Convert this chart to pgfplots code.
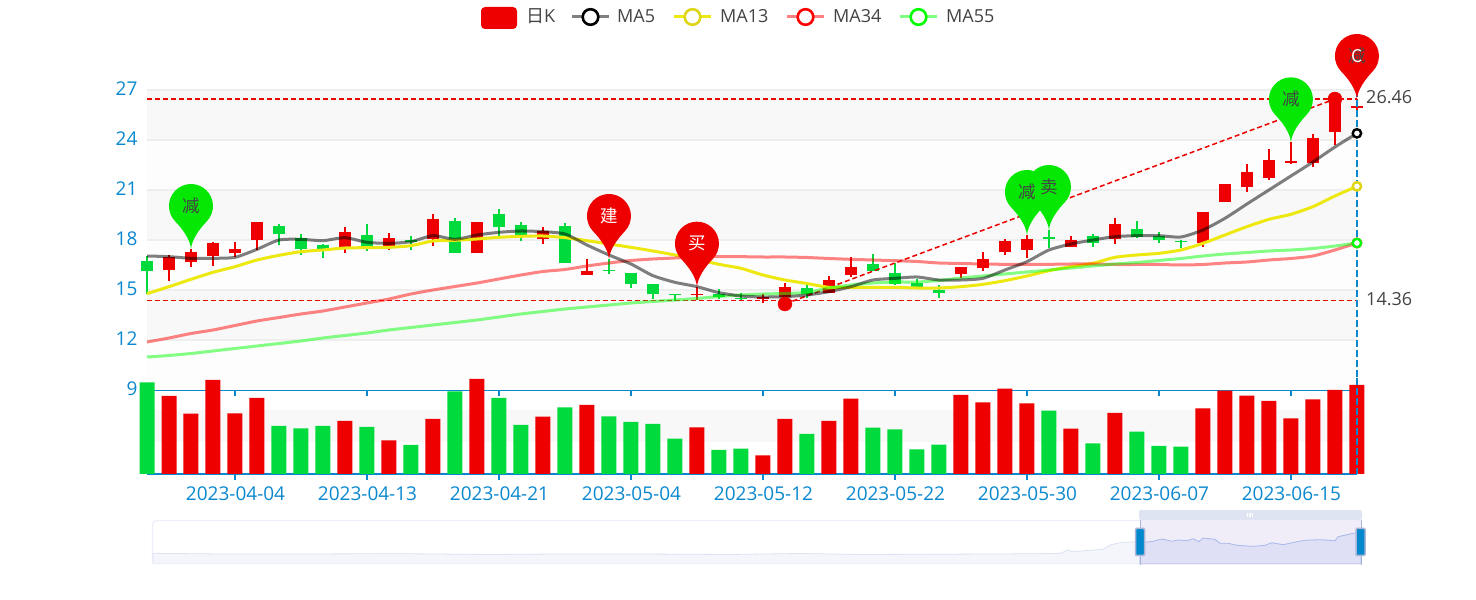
\documentclass[border=0pt]{standalone}
\usepackage{fontspec}
\usepackage{pgfplots}
\usepackage{pgfplotstable}
\pgfplotsset{compat=1.18}
\setmainfont{Open Sans}
\newfontfamily\cjk{Noto Sans CJK SC}
\definecolor{kred}{HTML}{EE0000}
\definecolor{kgreen}{HTML}{00DA3C}
\definecolor{axblue}{HTML}{0A88CF}
\definecolor{hblue}{HTML}{0088CC}
\definecolor{bandg}{HTML}{F8F8F8}
\definecolor{bandw}{HTML}{FDFDFD}
\definecolor{gridc}{HTML}{EEEEEE}
\definecolor{pinG}{HTML}{04E804}
\definecolor{txt}{HTML}{444444}
\definecolor{ma13c}{HTML}{EEE811}
\definecolor{ma13m}{HTML}{DDD515}
\definecolor{szborder}{HTML}{F0EEFA}
\definecolor{szleft}{HTML}{F5F6FB}
\definecolor{szleftl}{HTML}{DCE2F3}
\definecolor{szsel}{HTML}{F0EDF8}
\definecolor{szself}{HTML}{DFDFF5}
\definecolor{szsell}{HTML}{A9B9E9}
\definecolor{sztop}{HTML}{DFE4F2}
\definecolor{szedge}{HTML}{A9B4D6}
\pgfdeclareplotmark{pin}{%
 \pgfpathmoveto{\pgfqpoint{0pt}{0pt}}%
 \pgfpathcurveto{\pgfqpoint{1pt}{10pt}}{\pgfqpoint{8.5pt}{20pt}}{\pgfqpoint{16pt}{27.9pt}}%
 \pgfpatharc{-43.3}{223.3}{22pt}%
 \pgfpathcurveto{\pgfqpoint{-8.5pt}{20pt}}{\pgfqpoint{-1pt}{10pt}}{\pgfqpoint{0pt}{0pt}}%
 \pgfpathclose\pgfusepathqfill}
% candles: i open close low high (open/close order gives colour)
\pgfplotstableread{
i  open  close low   high
2  16.67 17.27 16.40 17.46
3  17.03 17.80 16.44 17.88
4  17.20 17.44 17.00 17.90
1  16.20 16.98 15.56 17.10
5  18.00 19.06 17.40 19.06
9  17.60 18.46 17.20 18.76
11 17.56 18.12 17.40 18.40
13 18.06 19.24 17.64 19.56
15 17.24 19.06 17.24 19.06
18 18.04 18.52 17.76 18.76
20 15.90 16.14 15.90 16.84
25 14.70 14.76 14.40 15.20
28 14.48 14.52 14.22 14.78
29 14.56 15.16 14.40 15.40
31 14.84 15.60 14.84 15.86
32 15.88 16.38 15.76 17.00
37 15.96 16.36 15.70 16.36
38 16.30 16.84 16.14 17.30
39 17.26 17.92 17.12 18.08
40 17.40 18.06 16.94 18.30
42 17.56 17.98 17.56 18.24
44 18.06 18.96 17.76 19.30
48 17.82 19.66 17.60 19.66
49 20.30 21.38 20.30 21.38
50 21.16 22.06 20.90 22.58
51 21.74 22.82 21.60 23.46
52 22.64 22.72 22.62 23.86
53 22.60 24.10 22.36 24.36
54 24.46 26.40 23.70 26.46
55 25.90 26.04 25.80 26.46
}\upT
\pgfplotstableread{
i  open  close low   high
0  16.74 16.14 14.76 17.04
6  18.84 18.34 17.72 18.96
7  18.10 17.44 17.10 18.34
8  17.68 17.32 16.90 17.76
10 18.28 17.60 17.34 18.96
12 18.02 17.86 17.40 18.26
14 19.12 17.24 17.24 19.30
16 19.54 18.76 18.24 19.88
17 18.88 18.30 17.96 19.10
19 18.84 16.62 16.62 19.00
21 16.18 16.14 15.94 16.86
22 16.00 15.34 15.14 16.00
23 15.36 14.74 14.46 15.36
24 14.74 14.68 14.34 14.74
26 14.74 14.56 14.44 15.04
27 14.54 14.46 14.40 14.80
30 15.12 14.76 14.54 15.30
33 16.54 16.12 16.12 17.16
34 16.04 15.36 15.30 16.60
35 15.40 15.16 15.16 15.64
36 15.00 14.80 14.54 15.30
41 18.12 18.08 17.52 18.60
43 18.22 17.84 17.60 18.36
45 18.64 18.20 18.12 19.14
46 18.26 18.00 17.84 18.50
47 17.92 17.88 17.54 18.00
}\downT
% moving averages: i ma5 ma13 ma34 ma55
\pgfplotstableread{
i  ma5   ma13  ma34  ma55
0  17.04 14.78 11.88 10.98
1  17.00 15.20 12.12 11.07
2  16.90 15.64 12.39 11.19
3  16.90 16.06 12.60 11.34
4  16.96 16.40 12.87 11.49
5  17.44 16.80 13.14 11.64
6  18.00 17.08 13.35 11.79
7  18.04 17.30 13.56 11.94
8  17.96 17.40 13.74 12.12
9  18.14 17.52 13.98 12.27
10 17.86 17.54 14.22 12.42
11 17.80 17.56 14.46 12.60
12 17.90 17.66 14.76 12.75
13 18.26 17.94 15.00 12.90
14 18.04 17.98 15.21 13.05
15 18.30 18.06 15.42 13.20
16 18.46 18.16 15.66 13.38
17 18.54 18.22 15.90 13.56
18 18.50 18.24 16.11 13.71
19 18.36 18.14 16.23 13.86
20 17.70 17.96 16.44 13.98
21 17.10 17.76 16.62 14.10
22 16.56 17.56 16.77 14.22
23 15.86 17.34 16.86 14.31
24 15.46 17.10 16.92 14.40
25 15.20 16.84 16.98 14.49
26 14.84 16.54 17.00 14.61
27 14.64 16.30 17.00 14.70
28 14.58 15.90 16.98 14.76
29 14.60 15.60 16.98 14.79
30 14.70 15.39 16.95 14.85
31 14.90 15.16 16.89 15.12
32 15.20 15.16 16.84 15.30
33 15.60 15.16 16.80 15.42
34 15.70 15.16 16.76 15.48
35 15.78 15.12 16.71 15.48
36 15.60 15.12 16.62 15.57
37 15.60 15.20 16.59 15.72
38 15.70 15.34 16.56 15.84
39 16.20 15.56 16.54 15.96
40 16.70 15.84 16.54 16.08
41 17.40 16.16 16.54 16.20
42 17.76 16.40 16.56 16.32
43 18.00 16.60 16.56 16.44
44 18.20 16.96 16.53 16.56
45 18.26 17.10 16.53 16.65
46 18.26 17.20 16.53 16.77
47 18.18 17.40 16.50 16.89
48 18.60 17.80 16.53 17.04
49 19.30 18.30 16.62 17.16
50 20.16 18.80 16.68 17.25
51 21.00 19.24 16.80 17.34
52 21.84 19.54 16.89 17.40
53 22.68 20.00 17.04 17.49
54 23.58 20.64 17.40 17.64
55 24.40 21.22 17.82 17.82
}\maT
% volume
\pgfplotstableread{
i v
1 78
2 60.3
3 94
4 60.7
5 76
9 53
11 33.7
13 55
15 95
18 57.3
20 69
25 46.7
28 18.7
29 55
31 53
32 75.3
37 79
38 71.7
39 85.3
40 70.7
42 45.3
44 61
48 65.7
49 83.3
50 78.3
51 73
52 55.7
53 74.7
54 84
55 89
}\volUp
\pgfplotstableread{
i v
0 91.7
6 48
7 45.7
8 48
10 47
12 29
14 82.7
16 76
17 49
19 66.7
21 57.7
22 52
23 50
24 35.3
26 24
27 25.3
30 40
33 46.3
34 44.7
35 24.7
36 29.3
41 63.3
43 30.7
45 42.3
46 28
47 27.3
}\volDn
\begin{document}
\begin{tikzpicture}[x=1pt,y=1pt]
\path[use as bounding box] (0,0) rectangle (1476,600);
% ===== price axis
\begin{axis}[
 at={(147pt,210pt)},anchor=south west,
 scale only axis,width=1210pt,height=300pt,
 xmin=0,xmax=55,ymin=9,ymax=27,
 clip=false,
 axis x line=bottom,axis y line=left,
 axis line style={draw=none},
 x axis line style={draw=axblue,line width=1.8pt,-},
 y axis line style={draw=none},
 ytick={9,12,15,18,21,24,27},
 ymajorgrids=false,
 xtick={4,10,16,22,28,34,40,46,52},
 xticklabels={},
 tick style={draw=axblue,line width=1.5pt},
 x tick style={draw=axblue,line width=1.5pt,yshift=-0.1pt},
 major tick length=6pt,
 xtick align=outside,
 ytick style={draw=none},
 /pgf/number format/assume math mode=true,
 yticklabel style={font=\fontsize{19}{19}\selectfont,text=axblue,anchor=east,xshift=-3pt,yshift=1pt},
 ]
 \fill[bandg] (axis cs:0,24) rectangle (axis cs:55,27);
 \fill[bandw] (axis cs:0,21) rectangle (axis cs:55,24);
 \fill[bandg] (axis cs:0,18) rectangle (axis cs:55,21);
 \fill[bandw] (axis cs:0,15) rectangle (axis cs:55,18);
 \fill[bandg] (axis cs:0,12) rectangle (axis cs:55,15);
 \fill[bandw] (axis cs:0,9) rectangle (axis cs:55,12);
 \foreach \v in {12,15,18,21,24,27}{\edef\tmp{\noexpand\draw[gridc,line width=1.4pt] (axis cs:0,\v) -- (axis cs:55,\v);}\tmp}
 % candles: wicks then bodies
 \addplot[draw=none,forget plot,error bars/.cd,y dir=both,y explicit,error mark=none,error bar style={kred,line width=2pt}]
   table[x=i,y=open,y error plus expr=\thisrow{high}-\thisrow{open},y error minus expr=\thisrow{open}-\thisrow{low}]{\upT};
 \addplot[draw=none,forget plot,error bars/.cd,y dir=both,y explicit,error mark=none,error bar style={kgreen,line width=2pt}]
   table[x=i,y=open,y error plus expr=\thisrow{high}-\thisrow{open},y error minus expr=\thisrow{open}-\thisrow{low}]{\downT};
 \addplot[draw=none,forget plot,error bars/.cd,y dir=plus,y explicit,error mark=none,error bar style={kred,line width=12pt}]
   table[x=i,y=open,y error plus expr={max(\thisrow{close}-\thisrow{open},0.08)}]{\upT};
 \addplot[draw=none,forget plot,error bars/.cd,y dir=plus,y explicit,error mark=none,error bar style={kgreen,line width=12pt}]
   table[x=i,y=close,y error plus expr={max(\thisrow{open}-\thisrow{close},0.08)}]{\downT};
 % dashed mark lines
 \addplot[kred,dash pattern=on 5pt off 3pt,line width=1.5pt,forget plot] coordinates {(0,26.46) (55,26.46)};
 \addplot[kred,dash pattern=on 5pt off 3pt,line width=1.5pt,forget plot] coordinates {(0,14.36) (55,14.36)};
 \addplot[kred,dash pattern=on 5pt off 3pt,line width=1.5pt,forget plot] coordinates {(29,14.16) (54,26.46)};
 % moving averages
 \addplot[ma13c,line width=3pt,smooth,tension=0.4,forget plot] table[x=i,y=ma13]{\maT};
 \addplot[red,opacity=0.48,line width=3pt,smooth,tension=0.4,forget plot] table[x=i,y=ma34]{\maT};
 \addplot[green,opacity=0.48,line width=3pt,smooth,tension=0.4,forget plot] table[x=i,y=ma55]{\maT};
 \addplot[black,opacity=0.5,line width=3pt,smooth,tension=0.4,forget plot] table[x=i,y=ma5]{\maT};
 % axis pointer
 \addplot[axblue,dash pattern=on 7pt off 3pt,line width=1.8pt,forget plot] coordinates {(55,27) (55,9)};
 % end-of-line circles
 \addplot[only marks,mark=*,mark size=4.2pt,mark options={draw=red,fill=white,line width=2.4pt},forget plot] coordinates {(55,17.82)};
 \addplot[only marks,mark=*,mark size=4.2pt,mark options={draw=green,fill=white,line width=2.4pt},forget plot] coordinates {(55,17.82)};
 \addplot[only marks,mark=*,mark size=4.2pt,mark options={draw=ma13m,fill=white,line width=2.4pt},forget plot] coordinates {(55,21.22)};
 \addplot[only marks,mark=*,mark size=4.2pt,mark options={draw=black,fill=white,line width=2.4pt},forget plot] coordinates {(55,24.40)};
 % extreme points
 \addplot[only marks,mark=*,mark size=7pt,kred,mark options={draw=none,fill=kred},forget plot] coordinates {(29,14.16) (54,26.46)};
 % pins
 \addplot[only marks,mark=pin,mark options={fill=pinG},forget plot] coordinates {(2,17.46) (40,18.30) (41,18.60) (52,23.86)};
 \addplot[only marks,mark=pin,mark options={fill=kred},forget plot] coordinates {(21,16.86) (25,15.20) (55,26.46)};
 \addplot[only marks,mark=none,forget plot,point meta=explicit symbolic,nodes near coords,
   every node near coord/.style={anchor=center,yshift=43pt,inner sep=0pt,font=\cjk\fontsize{17.5}{18}\selectfont,text=txt}]
   coordinates {(2,17.46)[减] (40,18.30)[减] (41,18.60)[卖] (52,23.86)[减] (55,26.46)[减]};
 \addplot[only marks,mark=none,forget plot,point meta=explicit symbolic,nodes near coords,
   every node near coord/.style={anchor=center,yshift=43pt,inner sep=0pt,font=\cjk\fontsize{17.5}{18}\selectfont,text=white}]
   coordinates {(21,16.86)[建] (25,15.20)[买] (55,26.46)[C]};
 % end labels
 \node[anchor=west,inner sep=0pt,font=\fontsize{18}{18}\selectfont,text=txt] at (1219pt,293pt) {26.46};
 \node[anchor=west,inner sep=0pt,font=\fontsize{18}{18}\selectfont,text=txt] at (1219pt,91pt) {14.36};
\end{axis}
% ===== volume axis
\begin{axis}[
 at={(147pt,126pt)},anchor=south west,
 scale only axis,width=1210pt,height=96pt,
 xmin=0,xmax=55,ymin=0,ymax=96,
 clip=false,
 axis x line=bottom,axis y line=none,
 x axis line style={draw=axblue,line width=1.8pt,-},
 xtick={4,10,16,22,28,34,40,46,52},
 xticklabels={2023-04-04,2023-04-13,2023-04-21,2023-05-04,2023-05-12,2023-05-22,2023-05-30,2023-06-07,2023-06-15},
 tick style={draw=axblue,line width=1.5pt},
 major tick length=6pt,
 xtick align=outside,
 xticklabel style={font=\fontsize{19}{19}\selectfont,text=axblue,yshift=-3pt,xshift=0.5pt},
 ytick=\empty,
 ]
 \fill[bandg] (axis cs:0,32) rectangle (axis cs:55,64);
 \addplot[ybar,bar width=15pt,fill=kred,draw=none,forget plot] table[x=i,y=v]{\volUp};
 \addplot[ybar,bar width=15pt,fill=kgreen,draw=none,forget plot] table[x=i,y=v]{\volDn};
 \addplot[axblue,dash pattern=on 7pt off 3pt,line width=1.8pt,forget plot] coordinates {(55,96) (55,0)};
\end{axis}
% ===== slider background + sparkline
\draw[draw=szborder,fill=white,line width=1.2pt,rounded corners=4pt] (152.5,36.5) rectangle (1361.5,79.5);
\fill[szsel] (1140,35) rectangle (1361,80);
\begin{axis}[
 at={(152pt,36pt)},anchor=south west,
 scale only axis,width=1209pt,height=44pt,
 xmin=152,xmax=1361,ymin=36,ymax=80,
 axis lines=none,clip=true,
 ]
 \addplot[draw=szleftl,line width=0.8pt,fill=szleft] coordinates {
 (153,46.7) (220,46) (300,46) (400,46.3) (490,45.5) (560,46) (640,46) (730,45.5) (800,46.5) (860,45.5) (1000,46) (1060,46.5)
 (1068,50) (1073,48.3) (1103,50.7) (1110,55) (1122,57.7) (1140,58.3)}
 \closedcycle;
 \addplot[draw=szsell,line width=0.8pt,fill=szself] coordinates {
 (1140,58.3) (1145,57.7) (1153,58.7) (1162,61) (1172,58.7) (1178,60) (1187,59.3) (1193,61.3) (1199,58.3) (1203,62) (1215,60.7) (1220,56.7) (1228,56.7) (1237,54.7) (1253,53.7) (1265,54.7) (1272,57.3) (1283,55.3) (1297,58.3) (1305,59.7) (1320,60.3) (1335,59.3) (1338,63.3) (1353,66.7) (1361,67.3)}
 \closedcycle;
\end{axis}
% slider top bar, edges, handles
\fill[rounded corners=2pt,fill=sztop] (1139,80) rectangle (1362,90);
\foreach \xx in {1247.5,1250,1252.5}{\fill[white] (\xx-0.7,82.5) rectangle (\xx+0.7,87);}
\draw[szedge,line width=1pt] (1140,35) -- (1140,80) (1361,35) -- (1361,80);
\foreach \xx in {1140,1360.5}{\fill[hblue,draw=szedge,line width=1.5pt,rounded corners=1pt] (\xx-4.5,44.5) rectangle (\xx+4.5,71.5);}
% ===== legend
\fill[kred,rounded corners=4pt] (481,571) rectangle (517,593);
\node[anchor=west,inner sep=0pt,text=txt] at (526,583.5) {\cjk\fontsize{18}{18}\selectfont 日\fontspec{Open Sans}K};
\foreach \lx/\tx/\lc/\cc in {572/617/black!50!white/black, 674/720/ma13c/ma13m, 787/833/red!50!white/red, 900/946/green!50!white/green}{
  \draw[\lc,line width=3pt] (\lx,583) -- (\lx+37,583);
  \draw[\cc,fill=white,line width=2.6pt] (\lx+18.5,583) circle (7.8);
}
\node[anchor=west,inner sep=0pt,font=\fontsize{18}{18}\selectfont,text=txt] at (617,583.5) {MA5};
\node[anchor=west,inner sep=0pt,font=\fontsize{18}{18}\selectfont,text=txt] at (720,583.5) {MA13};
\node[anchor=west,inner sep=0pt,font=\fontsize{18}{18}\selectfont,text=txt] at (833,583.5) {MA34};
\node[anchor=west,inner sep=0pt,font=\fontsize{18}{18}\selectfont,text=txt] at (946,583.5) {MA55};
\end{tikzpicture}
\end{document}
